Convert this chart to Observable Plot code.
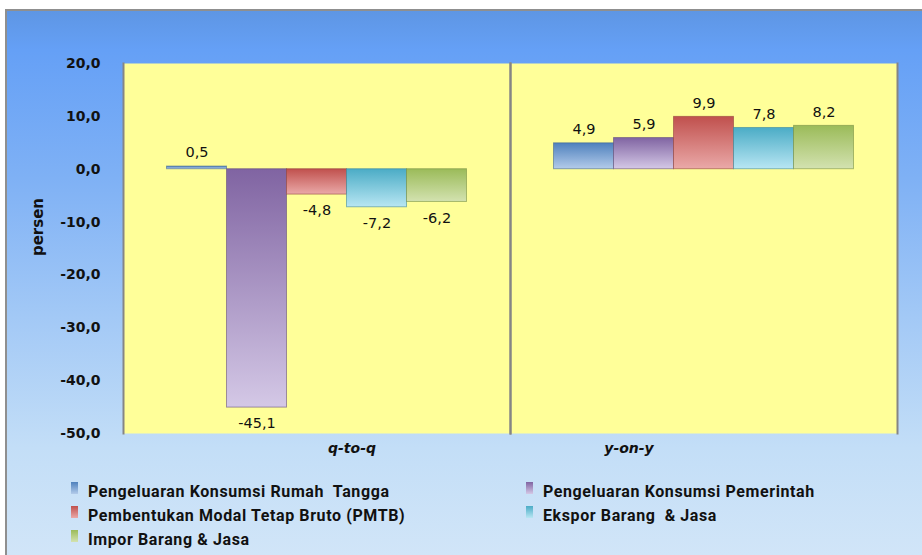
<!DOCTYPE html>
<html><head><meta charset="utf-8">
<script src="https://cdn.jsdelivr.net/npm/d3@7"></script>
<script src="https://cdn.jsdelivr.net/npm/@observablehq/plot@0.6"></script>
<style>
html,body{margin:0;padding:0;background:#fff;}
#wrap{position:relative;width:922px;height:555px;overflow:hidden;background:#fff;}
#panel{position:absolute;left:5px;top:9px;width:930px;height:560px;border-left:2px solid #8f8f8f;border-top:2px solid #8f8f8f;
background:linear-gradient(to bottom,#5e96e4 0%,#65a0f6 7%,#7fb1f5 30%,#a3c9f6 55%,#c3def7 78%,#d3e6f8 100%);}
#chart{position:absolute;left:0;top:0;}
#ylab{position:absolute;left:38px;top:227px;transform:translate(-50%,-50%) rotate(-90deg);font:bold 15px "DejaVu Sans";color:#111;white-space:nowrap;}
.leg{position:absolute;font:bold 16px Roboto;letter-spacing:0.6px;color:#111;white-space:pre;line-height:18px;}
.sw{position:absolute;width:7px;height:12px;}
</style></head>
<body>
<div id="wrap"><div id="panel"></div><div id="chart"></div><div id="ylab">persen</div><div id="legend"></div></div>
<script>
const categories = ["Pengeluaran Konsumsi Rumah  Tangga", "Pengeluaran Konsumsi Pemerintah", "Pembentukan Modal Tetap Bruto (PMTB)", "Ekspor Barang  & Jasa", "Impor Barang & Jasa"];
const periods = ["q-to-q", "y-on-y"];
const qtoq = [0.5, -45.1, -4.8, -7.2, -6.2];
const yony = [4.9, 5.9, 9.9, 7.8, 8.2];
const yTicks = [20, 10, 0, -10, -20, -30, -40, -50];
const colorsTop = ["#4f81bd", "#8064a2", "#c0504d", "#4bacc6", "#9bbb59"];
const colorsBottom = ["#b3cbea", "#d4c8e6", "#eaa9a8", "#b8e6f3", "#d3e2b0"];
const colorsEdge = ["#3a608f", "#5c4679", "#8e3a38", "#34829a", "#718a40"];

const fmt = v => v.toFixed(1).replace(".", ",");
const data = [];
periods.forEach((p, pi) => {
  const vals = pi === 0 ? qtoq : yony;
  categories.forEach((c, ci) => data.push({period: p, category: c, idx: ci, value: vals[ci]}));
});

const plot = Plot.plot({
  width: 922,
  height: 470,
  marginLeft: 123,
  marginRight: 25,
  marginTop: 63,
  marginBottom: 37,
  style: {fontFamily: "DejaVu Sans", fontSize: "14px", color: "#111", background: "transparent", overflow: "visible"},
  fx: {domain: periods, padding: 0, round: false, label: null, axis: null},
  x: {domain: categories, paddingInner: 0, paddingOuter: 0.725, round: false, axis: null},
  y: {domain: [-50, 20], label: null, axis: null},
  color: {type: "identity"},
  marks: [
    Plot.frame({fill: "#ffff99"}),
    Plot.barY(data, {fx: "period", x: "category", y: "value", fill: d => `url(#grad${d.idx})`, stroke: d => colorsEdge[d.idx], strokeOpacity: 0.55, strokeWidth: 1}),
    Plot.text(data.filter(d => d.value >= 0), {fx: "period", x: "category", y: "value", text: d => fmt(d.value), dy: -14, fill: "#111", fontSize: 14.5}),
    Plot.text(data.filter(d => d.value < 0), {fx: "period", x: "category", y: "value", text: d => fmt(d.value), dy: 16, fill: "#111", fontSize: 14.5}),
    Plot.frame({anchor: "left", stroke: "#858585", strokeWidth: 2}),
    Plot.frame({anchor: "right", stroke: "#858585", strokeWidth: 2}),
    Plot.axisY({ticks: yTicks, tickFormat: fmt, tickSize: 0, tickPadding: 23, fontWeight: "bold", fontSize: 14, label: null}),
    Plot.axisFx({ticks: ["q-to-q"], anchor: "bottom", tickSize: 0, tickPadding: 10, dx: 35, fontWeight: "bold", fontStyle: "italic", fontSize: 14, label: null}),
    Plot.axisFx({ticks: ["y-on-y"], anchor: "bottom", tickSize: 0, tickPadding: 10, dx: -75, fontWeight: "bold", fontStyle: "italic", fontSize: 14, label: null})
  ]
});

const svg = d3.select(plot);
const defs = svg.insert("defs", ":first-child");
colorsTop.forEach((c, i) => {
  const g = defs.append("linearGradient").attr("id", `grad${i}`).attr("x1", 0).attr("y1", 0).attr("x2", 0).attr("y2", 1);
  g.append("stop").attr("offset", "0%").attr("stop-color", c);
  g.append("stop").attr("offset", "100%").attr("stop-color", colorsBottom[i]);
});
document.getElementById("chart").appendChild(plot);

// legend
const legend = document.getElementById("legend");
const colX = [88, 543];
const rowY = [492, 516, 540];
categories.forEach((c, i) => {
  const x = colX[i % 2], y = rowY[Math.floor(i / 2)];
  const sw = document.createElement("div");
  sw.className = "sw";
  sw.style.left = (x - 17) + "px";
  sw.style.top = (y - 10) + "px";
  sw.style.background = `linear-gradient(to bottom, ${colorsTop[i]}, ${colorsBottom[i]})`;
  legend.appendChild(sw);
  const t = document.createElement("div");
  t.className = "leg";
  t.textContent = c;
  t.style.left = x + "px";
  t.style.top = (y - 9) + "px";
  legend.appendChild(t);
});
</script>
</body></html>
